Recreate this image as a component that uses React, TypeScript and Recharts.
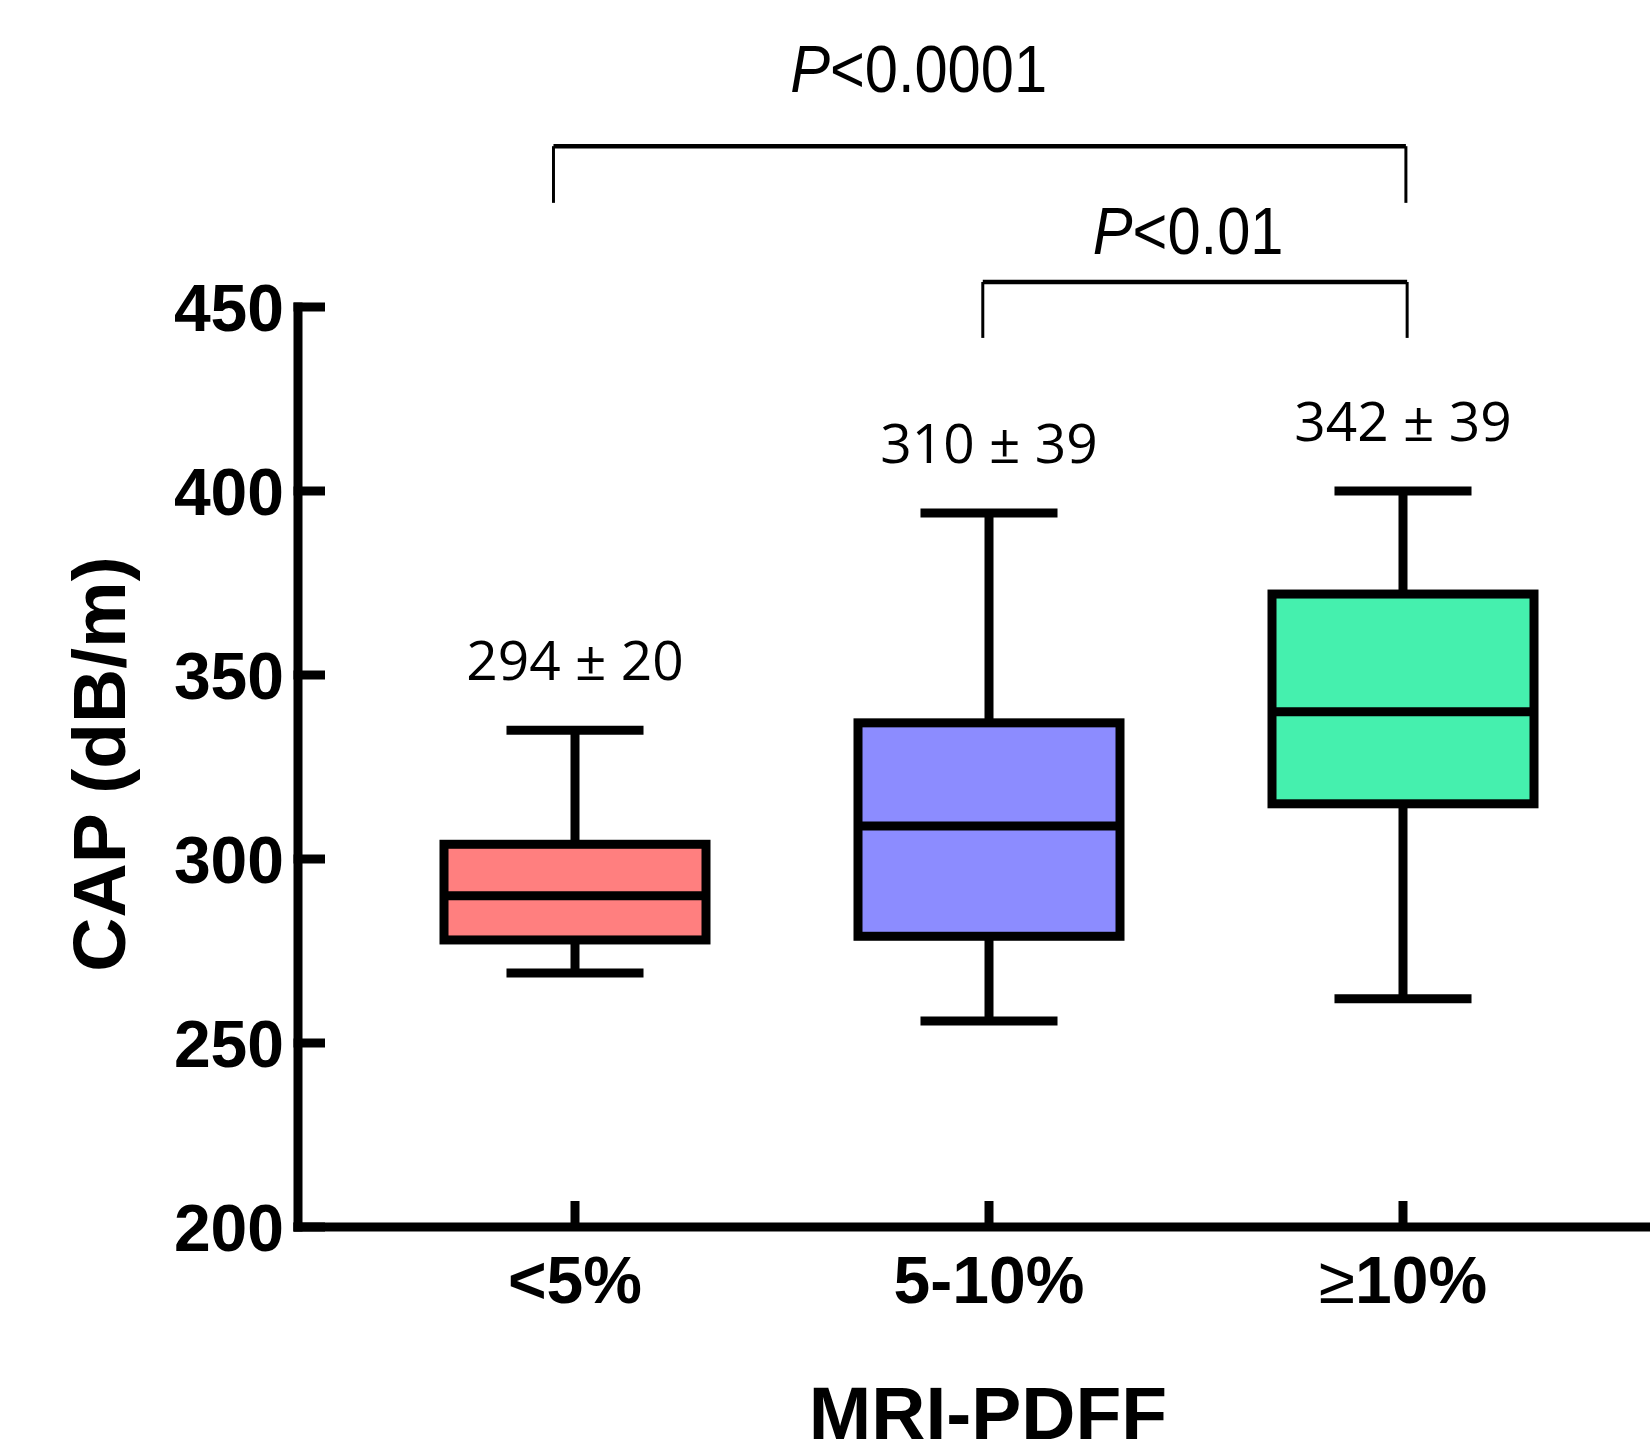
import React from 'react'
import { ComposedChart, Bar, XAxis, YAxis, ReferenceLine, ReferenceDot } from 'recharts'

// groups on the x axis
const groups = ['<5%', '5-10%', '≥10%']
// box plot stats (CAP, dB/m)
const mins = [269, 256, 262]
const q1s = [278, 279, 315]
const medians = [290, 309, 340]
const q3s = [304, 337, 372]
const maxs = [335, 394, 400]
// mean ± sd shown above each box
const means = [294, 310, 342]
const sds = [20, 39, 39]
const yTicks = [200, 250, 300, 350, 400, 450]

// significance brackets (x in group positions 1..3, y in dB/m)
const brackets = [
  { x1: 0.948, x2: 3.007, y: 493.7, yLeg: 478.3, label: '<0.0001', lx: 1.83, ly: 508.3 },
  { x1: 1.985, x2: 3.01, y: 456.8, yLeg: 441.6, label: '<0.01', lx: 2.481, ly: 464.5 },
]

const colors = ['#FF7F7F', '#8C8CFF', '#45F0AE']

const W = 1650
const H = 1443
const Y_AXIS_W = 298
const PAD_L = 70
const PAD_R = 40
const BAND = (W - Y_AXIS_W - PAD_L - PAD_R) / groups.length
const annDomain = [0.5 - PAD_L / BAND, groups.length + 0.5 + PAD_R / BAND]

const data = groups.map((g, i) => ({
  group: g,
  pos: i + 1,
  range: [mins[i], maxs[i]],
  min: mins[i], q1: q1s[i], median: medians[i], q3: q3s[i], max: maxs[i],
  mean: means[i], sd: sds[i], idx: i,
}))

const SW = 9

function BoxShape(props: any) {
  const { x, y, width, height, payload } = props
  const top = Math.min(y, y + height)
  const bottom = Math.max(y, y + height)
  const { min, max, q1, median, q3, mean, sd, idx } = payload
  const py = (v: number) => bottom - ((v - min) / (max - min)) * (bottom - top)
  const cx = x + width / 2
  const capW = width * 0.523
  return (
    <g>
      <line x1={cx} x2={cx} y1={py(q3)} y2={py(max)} stroke="#000" strokeWidth={SW} />
      <line x1={cx} x2={cx} y1={py(q1)} y2={py(min)} stroke="#000" strokeWidth={SW} />
      <line x1={cx - capW / 2} x2={cx + capW / 2} y1={py(max)} y2={py(max)} stroke="#000" strokeWidth={SW} />
      <line x1={cx - capW / 2} x2={cx + capW / 2} y1={py(min)} y2={py(min)} stroke="#000" strokeWidth={SW} />
      <rect x={x} y={py(q3)} width={width} height={py(q1) - py(q3)} fill={colors[idx]} stroke="#000" strokeWidth={SW} />
      <line x1={x} x2={x + width} y1={py(median)} y2={py(median)} stroke="#000" strokeWidth={SW} />
      <text x={cx} y={py(max) - 50} textAnchor="middle" fontFamily="'Open Sans', sans-serif" fontSize={55} fill="#000">
        {`${mean} ± ${sd}`}
      </text>
    </g>
  )
}

function YTick(props: any) {
  const { x, y, payload } = props
  return (
    <g>
      <line x1={x - SW / 2} x2={x + 27} y1={y} y2={y} stroke="#000" strokeWidth={SW} />
      <text x={x - 14} y={y} dy={23.5} textAnchor="end" fontFamily="'Liberation Sans', Arial, sans-serif" fontWeight="bold" fontSize={66} fill="#000">
        {payload.value}
      </text>
    </g>
  )
}

function XTick(props: any) {
  const { x, y, payload } = props
  const v: string = String(payload.value)
  const ge = v.startsWith('≥')
  return (
    <g>
      <line x1={x} x2={x} y1={y} y2={y - 26} stroke="#000" strokeWidth={SW} />
      <text x={x} y={y + 76} textAnchor="middle" fontFamily="'Liberation Sans', Arial, sans-serif" fontWeight="bold" fontSize={66} fill="#000">
        {ge ? <tspan fontWeight="normal">≥</tspan> : null}
        {ge ? v.slice(1) : v}
      </text>
    </g>
  )
}

function PLabel(text: string) {
  return (props: any) => (
    <g transform={`translate(${props.cx},${props.cy}) scale(0.89,1)`}>
      <text x={0} y={0} textAnchor="middle" fontFamily="'Liberation Sans', Arial, sans-serif" fontSize={67} fill="#000">
        <tspan fontStyle="italic">P</tspan>{text}
      </text>
    </g>
  )
}

export default function App() {
  return (
    <div style={{ position: 'absolute', left: 0, top: 0, width: W, height: H, background: '#fff' }}>
      <ComposedChart width={W} height={H} data={data} margin={{ top: 307, right: 0, bottom: 0, left: 0 }}>
        <XAxis
          dataKey="group"
          type="category"
          padding={{ left: PAD_L, right: PAD_R }}
          height={216}
          interval={0}
          axisLine={{ stroke: '#000', strokeWidth: SW, strokeLinecap: 'square' }}
          tickLine={false}
          tickSize={0}
          tickMargin={0}
          tick={<XTick />}
          label={{
            content: (p: any) => (
              <text x={p.viewBox.x + p.viewBox.width / 2 + 14} y={1439} textAnchor="middle" fontFamily="'Liberation Sans', Arial, sans-serif" fontWeight="bold" fontSize={75} fill="#000">
                MRI-PDFF
              </text>
            ),
          }}
        />
        <XAxis xAxisId="ann" dataKey="pos" type="number" domain={annDomain} hide allowDataOverflow />
        <YAxis
          domain={[200, 450]}
          ticks={yTicks}
          width={Y_AXIS_W}
          allowDataOverflow
          axisLine={{ stroke: '#000', strokeWidth: SW, strokeLinecap: 'square' }}
          tickLine={false}
          tickSize={0}
          tickMargin={0}
          tick={<YTick />}
          label={{
            content: (p: any) => {
              const cy = p.viewBox.y + p.viewBox.height / 2 - 3
              return (
                <text x={125} y={cy} transform={`rotate(-90 125 ${cy})`} textAnchor="middle" fontFamily="'Liberation Sans', Arial, sans-serif" fontWeight="bold" fontSize={75} fill="#000">
                  CAP (dB/m)
                </text>
              )
            },
          }}
        />
        <Bar dataKey="range" barSize={262} shape={BoxShape} isAnimationActive={false} />
        {brackets.map((b, i) => (
          <React.Fragment key={i}>
            <ReferenceLine xAxisId="ann" ifOverflow="visible" segment={[{ x: b.x1, y: b.y }, { x: b.x2, y: b.y }]} stroke="#000" strokeWidth={4.5} />
            <ReferenceLine xAxisId="ann" ifOverflow="visible" segment={[{ x: b.x1, y: b.y }, { x: b.x1, y: b.yLeg }]} stroke="#000" strokeWidth={3} />
            <ReferenceLine xAxisId="ann" ifOverflow="visible" segment={[{ x: b.x2, y: b.y }, { x: b.x2, y: b.yLeg }]} stroke="#000" strokeWidth={3} />
            <ReferenceDot xAxisId="ann" ifOverflow="visible" x={b.lx} y={b.ly} r={0} shape={PLabel(b.label)} />
          </React.Fragment>
        ))}
      </ComposedChart>
    </div>
  )
}
